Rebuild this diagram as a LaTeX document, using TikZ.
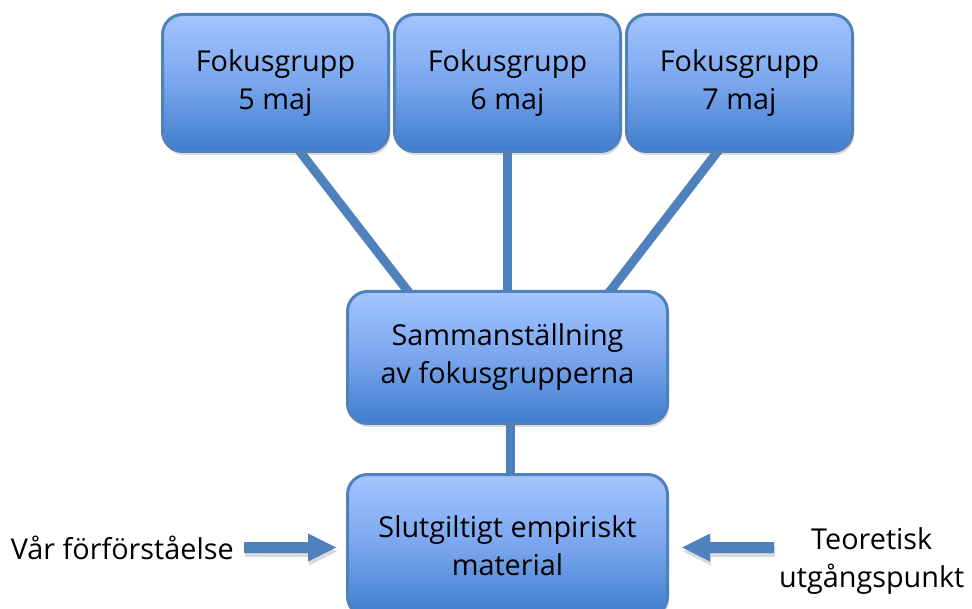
\documentclass[tikz,border=0pt]{standalone}
\usepackage{fontspec}
\setmainfont{Open Sans}
\usetikzlibrary{positioning,calc,shadows,backgrounds}
\definecolor{kant}{RGB}{79,129,189}
\definecolor{ljus}{RGB}{163,197,255}
\definecolor{mellan}{RGB}{122,166,238}
\definecolor{mork}{RGB}{62,125,205}
\tikzset{
 ruta/.style={draw=kant,line width=3pt,rounded corners=20pt,top color=ljus,bottom color=mork,middle color=mellan,
  align=center,inner sep=0pt,font=\fontsize{28.8}{38}\selectfont,
  drop shadow={shadow xshift=1.5pt,shadow yshift=-3.5pt,opacity=.3}},
 linje/.style={draw=kant,line width=9pt,shorten <=-4pt,shorten >=-4pt},
 blockpil/.style={fill=kant,drop shadow={shadow xshift=1pt,shadow yshift=-4pt,opacity=.3}},
 etikett/.style={align=center,inner sep=0pt,font=\fontsize{28.8}{38}\selectfont}
}
\begin{document}
\begin{tikzpicture}[x=1pt,y=-1pt]
 \useasboundingbox (0,0) rectangle (972,609);
 \clip (0,0) rectangle (972,609);
 \node[ruta,minimum width=226pt,minimum height=137pt] (f6) at (507.5,83) {Fokusgrupp\\6 maj};
 \node[ruta,minimum width=226pt,minimum height=137pt,left=3pt of f6] (f5) {Fokusgrupp\\5 maj};
 \node[ruta,minimum width=226pt,minimum height=137pt,right=3pt of f6] (f7) {Fokusgrupp\\7 maj};
 \node[ruta,minimum width=320pt,minimum height=132pt,below=137pt of f6] (sam) {Sammanställning\\av fokusgrupperna};
 \node[ruta,minimum width=320pt,minimum height=142pt,below=48pt of sam] (fin) {Slutgiltigt empiriskt\\material};
 \begin{scope}[on background layer]
 \draw[linje] ($(f5.south)+(25.5,0)$) -- ($(sam.north)+(-100.5,0)$);
 \draw[linje] (f6.south) -- (f6.south |- sam.north);
 \draw[linje] ($(f7.south)+(-23,0)$) -- ($(sam.north)+(103.5,0)$);
 \draw[linje] ($(sam.south)+(3,0)$) -- ($(fin.north)+(3,0)$);
 \end{scope}
 \coordinate (vspets) at ($(fin.west)+(-10,2)$);
 \coordinate (vbas) at ($(vspets)+(-92,0)$);
 \coordinate (hspets) at ($(fin.east)+(13,2)$);
 \coordinate (hbas) at ($(hspets)+(92,0)$);
 \fill[blockpil] (vspets) -- ++(-28,-14) -- ++(0,8.5) -- ++(-64,0) -- ++(0,11) -- ++(64,0) -- ++(0,8.5) -- cycle;
 \fill[blockpil] (hspets) -- ++(28,-14) -- ++(0,8.5) -- ++(64,0) -- ++(0,11) -- ++(-64,0) -- ++(0,8.5) -- cycle;
 \node[etikett,left=10pt of vbas] (var) {Vår förförståelse};
 \node[etikett,right=5pt of hbas,yshift=-14pt] (teo) {Teoretisk\\utgångspunkt};
\end{tikzpicture}
\end{document}
